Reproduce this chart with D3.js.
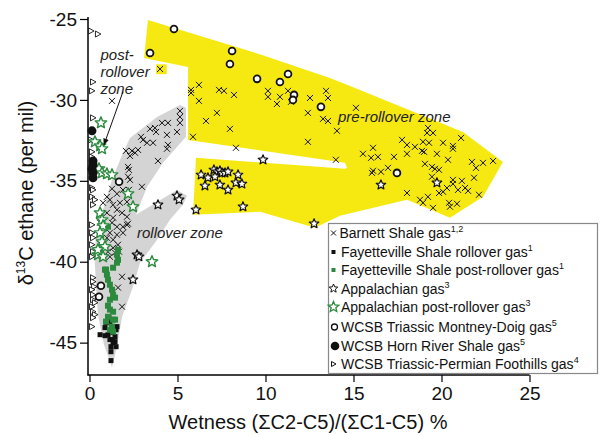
<!DOCTYPE html>
<html>
<head>
<meta charset="utf-8">
<script src="https://cdn.jsdelivr.net/npm/d3@7"></script>
<style>
  body { margin: 0; background: #fff; }
  svg { display: block; font-family: 'Liberation Sans', Arial, Helvetica, sans-serif; }
</style>
</head>
<body>
<div class="workspace"></div>
<script>
// zones
const preRolloverZone = [[3.32,-25.06],[9.8,-27.22],[13.66,-28.64],[15.09,-29.26],[21.22,-31.98],[23.49,-33.83],[22.36,-35.99],[20.48,-37.28],[18.04,-36.17],[14.23,-37.16],[12.81,-37.9],[9.69,-36.91],[5.88,-37.1],[6.05,-33.58],[14.52,-34.26],[14.63,-34.2],[14.52,-33.89],[5.6,-32.47],[5.6,-27.96],[3.1,-27.41]];
const preRolloverPatch = [[3.78,-27.8],[4.39,-27.8],[4.39,-28.41],[3.78,-28.41]];
const rolloverZone = [[1.28,-46.54],[0.82,-45.12],[0.48,-43.27],[0.37,-41.42],[0.26,-39.26],[0.6,-37.41],[1.28,-34.94],[1.85,-33.4],[2.3,-32.35],[3.84,-31.05],[5.14,-30.31],[5.48,-30.49],[5.48,-32.28],[4.18,-33.89],[3.27,-35.37],[2.64,-37.1],[4.97,-35.56],[5.54,-35.93],[5.31,-36.48],[4.57,-37.41],[3.84,-38.64],[2.87,-40.06],[2.47,-41.54],[1.85,-43.4],[1.56,-45.25]];

// series: [wetness %, d13C ethane]
const barnett = [
  [5.77,-29.38],[5.77,-29.57],[6.22,-29.07],[6.22,-30.06],[7.36,-29.38],[7.64,-29.44],[8.21,-29.69],[7.24,-30.8],[6.62,-31.3],[7.98,-31.79],[5.88,-32.28],[8.32,-32.96],
  [10.14,-29.44],[10.14,-29.81],[10.82,-29.81],[11.28,-29.44],[11.45,-30.12],[10.65,-30.25],[12.53,-29.88],[13.44,-29.44],[13.55,-29.88],[12.41,-30.8],[13.27,-31.17],[13.55,-31.3],[14.06,-31.91],[12.41,-32.59],[14.0,-33.7],[4.01,-28.09],[1.28,-30.06],[15.14,-30.49],
  [19.23,-31.73],[19.18,-32.04],[19.52,-32.04],[17.76,-32.47],[18.04,-32.78],[18.95,-32.59],[19.29,-32.65],[20.09,-32.65],[20.65,-32.84],[20.65,-33.02],[21.11,-32.35],[16.11,-32.96],[15.54,-33.33],[16.0,-33.58],[16.39,-33.52],[17.3,-33.52],[18.04,-33.33],[18.49,-32.9],[18.89,-33.15],[19.01,-33.21],[19.74,-33.33],[20.37,-33.7],[21.73,-33.83],[22.36,-33.89],[22.93,-33.77],[21.96,-34.2],[19.06,-33.95],[19.46,-34.14],[19.86,-34.32],[19.63,-34.26],[16.11,-34.38],[16.05,-34.51],[16.56,-34.44],[16.96,-34.2],[19.46,-34.75],[20.65,-34.94],[21.16,-35.0],[21.85,-34.81],[20.65,-35.19],[20.31,-35.44],[20.94,-35.56],[21.34,-35.44],[21.51,-35.62],[20.09,-35.68],[19.86,-35.75],[18.04,-35.75],[19.23,-35.99],[18.78,-36.17],[18.95,-36.36],[19.52,-36.67],[20.43,-36.36],[20.88,-36.42],[20.48,-36.6],[22.13,-35.86],
  [5.14,-30.68],[5.14,-31.05],[5.14,-31.42],[4.46,-31.42],[4.12,-31.42],[3.72,-31.73],[3.44,-31.79],[3.78,-31.98],[4.4,-32.16],[4.97,-31.98],[2.93,-32.28],[3.04,-32.47],[3.27,-32.65],[3.61,-32.65],[4.46,-32.78],[4.4,-33.02],[2.76,-33.09],[2.41,-33.15],[2.07,-33.15],[2.3,-33.46],[2.59,-33.27],[3.89,-33.77],[2.19,-34.14],[2.24,-34.32],[2.19,-34.75],[2.3,-34.94],[2.98,-35.37],[1.28,-35.49],[1.9,-35.56],[2.24,-35.56],[1.56,-35.8],[0.99,-35.99],[1.16,-36.17],[0.77,-36.36],[1.34,-36.48],[1.73,-36.36],[2.13,-36.3],[1.56,-36.79],[0.99,-36.98],[1.34,-37.28],[1.85,-36.98],[2.13,-37.22],[1.28,-37.59],[1.56,-37.84],[2.13,-37.72],[0.6,-37.59],[1.9,-37.84],[2.19,-37.65],[1.16,-38.21],[1.56,-38.33],[1.9,-38.21],[0.99,-38.52],[1.34,-38.64],[1.62,-38.95],[1.34,-39.14],[1.05,-39.38],[1.45,-39.44],[1.16,-39.69],[1.68,-39.38],[1.85,-40.93],[1.62,-41.6],[1.85,-42.78]
];
const fayRollover = [[0.6,-44.51],[0.88,-44.57],[1.05,-44.51],[1.28,-44.38],[1.45,-44.63],[1.56,-44.01],[1.28,-44.81],[1.22,-45.25],[1.22,-45.56],[1.22,-46.11],[1.34,-45.0],[1.11,-43.46],[1.51,-44.2],[1.16,-43.77],[0.94,-43.77],[0.88,-44.07],[1.51,-45.25],[1.16,-44.81],[1.45,-44.94]];
const fayPostRollover = [[0.94,-40.49],[1.34,-40.37],[1.56,-40.06],[1.62,-39.88],[1.56,-39.57],[1.62,-39.26],[0.88,-40.49],[0.99,-40.8],[1.05,-41.11],[1.16,-41.42],[1.28,-41.73],[1.34,-42.04],[1.45,-42.22],[1.16,-42.35],[1.05,-42.72],[1.16,-42.96],[1.34,-43.09],[1.05,-43.4],[0.94,-43.7],[1.34,-43.58],[1.45,-43.58],[1.28,-44.01],[1.16,-44.2],[1.34,-44.32],[1.05,-37.84]];
const appalachian = [[9.86,-33.7],[6.34,-34.63],[6.73,-34.81],[6.56,-35.31],[7.07,-34.32],[7.24,-34.44],[7.41,-34.38],[7.53,-34.51],[7.7,-34.51],[7.87,-34.44],[7.13,-34.75],[7.41,-35.25],[7.87,-35.56],[8.44,-34.63],[8.32,-35.12],[8.66,-35.19],[6.05,-36.79],[8.72,-36.6],[12.76,-37.65],[16.56,-35.25],[19.74,-35.12],[4.97,-35.93],[5.09,-36.17],[3.89,-36.48],[2.7,-39.57],[2.81,-39.69],[2.47,-41.11]];
const appPostRollover = [[0.65,-31.42],[0.31,-32.59],[0.6,-32.84],[0.71,-33.02],[0.54,-34.26],[0.71,-34.51],[0.99,-34.57],[1.28,-34.63],[2.19,-35.8],[2.47,-36.6],[0.6,-36.98],[0.71,-37.41],[0.77,-37.78],[0.6,-38.21],[0.71,-38.77],[0.88,-39.07],[0.48,-39.57],[0.77,-39.69],[0.48,-39.26],[3.55,-40.0]];
const montneyDoig = [[4.8,-25.62],[3.44,-27.1],[8.1,-26.98],[7.98,-27.78],[9.52,-28.7],[10.82,-28.89],[11.28,-28.4],[11.62,-29.69],[11.56,-30.0],[13.15,-30.43],[17.47,-34.51],[1.68,-35.06],[0.65,-41.48],[0.54,-42.16]];
const hornRiver = [[0.14,-31.91],[0.2,-33.77],[0.2,-34.01],[0.14,-34.26],[0.2,-34.51],[0.2,-34.81]];
const foothills = [[0.09,-25.74],[0.48,-25.93],[0.2,-28.89],[0.14,-29.44],[0.2,-31.11],[0.09,-32.47],[0.14,-33.21],[0.14,-33.52],[0.14,-35.43],[0.14,-35.99],[0.2,-35.56],[0.31,-36.17],[0.2,-36.48],[0.14,-37.72],[0.14,-38.21],[0.2,-38.52],[0.14,-38.95],[0.2,-39.38],[0.14,-39.69],[0.2,-40.99],[0.2,-41.23],[0.26,-41.54],[0.14,-41.73],[0.2,-42.04],[0.2,-42.35],[0.31,-42.53],[0.14,-42.78],[0.2,-43.09],[0.31,-43.27],[0.2,-43.46],[0.14,-44.01]];

const xMajorTicks = [0, 5, 10, 15, 20, 25];
const yMajorTicks = [-45, -40, -35, -30, -25];
const legendNames = ['Barnett Shale gas', 'Fayetteville Shale rollover gas', 'Fayetteville Shale post-rollover gas', 'Appalachian gas', 'Appalachian post-rollover gas', 'WCSB Triassic Montney-Doig gas', 'WCSB Horn River Shale gas', 'WCSB Triassic-Permian Foothills gas'];
const legendRefs = ['1,2', '1', '1', '3', '3', '5', '5', '4'];

const green = '#2b8a3e';
const yellow = '#f6e912';

const width = 600, height = 435;
const svg = d3.select('.workspace').append('svg').attr('width', width).attr('height', height);

const x = d3.scaleLinear().domain([0, 25]).range([89.5, 529.5]);
const y = d3.scaleLinear().domain([-47, -25]).range([375, 19]);

const poly = d3.line().x(d => x(d[0])).y(d => y(d[1]));

svg.append('path').attr('d', poly(preRolloverZone) + 'Z').attr('fill', yellow);
svg.append('path').attr('d', poly(preRolloverPatch) + 'Z').attr('fill', yellow);
svg.append('path').attr('d', poly(rolloverZone) + 'Z').attr('fill', '#d4d4d4');

// axes
const xAxis = svg.append('g').attr('transform', 'translate(0,375)');
xAxis.call(d3.axisBottom(x).tickValues(d3.range(0, 26)).tickSize(4).tickFormat(''));
xAxis.call(d3.axisBottom(x).tickValues(xMajorTicks).tickSize(7).tickPadding(5));
xAxis.selectAll('.domain').remove();
xAxis.append('line').attr('x1', 87.5).attr('x2', x(25)).attr('stroke', '#000').attr('stroke-width', 1.5);

const yAxis = svg.append('g').attr('transform', 'translate(88,0)');
yAxis.call(d3.axisLeft(y).tickValues(d3.range(-46, -24)).tickSize(4).tickFormat(''));
yAxis.call(d3.axisLeft(y).tickValues(yMajorTicks).tickSize(8).tickPadding(3).tickFormat(d => d));
yAxis.selectAll('.domain').remove();
yAxis.append('line').attr('y1', 17).attr('y2', 375.5).attr('stroke', '#000').attr('stroke-width', 1.5);

svg.selectAll('.tick line').attr('stroke-width', 1.2);
svg.selectAll('.tick text').attr('font-size', 19).attr('fill', '#111').attr('font-family', null);

svg.append('text').attr('x', 308).attr('y', 429).attr('text-anchor', 'middle')
  .attr('font-size', 20).attr('fill', '#111').text('Wetness (ΣC2-C5)/(ΣC1-C5) %');

const yTitle = svg.append('text').attr('transform', 'translate(33,193) rotate(-90)')
  .attr('text-anchor', 'middle').attr('font-size', 20).attr('fill', '#111');
yTitle.append('tspan').text('δ');
yTitle.append('tspan').attr('font-size', 12).attr('dy', -8).text('13');
yTitle.append('tspan').attr('dy', 8).text('C ethane (per mil)');

// marker shapes
function starPath(r) {
  const pts = [];
  for (let i = 0; i < 10; i++) {
    const a = -Math.PI / 2 + i * Math.PI / 5;
    const rr = i % 2 === 0 ? r : r * 0.45;
    pts.push([(rr * Math.cos(a)).toFixed(2), (rr * Math.sin(a)).toFixed(2)]);
  }
  return 'M' + pts.join('L') + 'Z';
}
const crossPath = 'M-3,-3L3,3M-3,3L3,-3';
const triPath = 'M-2.5,-3L3,0L-2.5,3Z';

function drawPath(data, d, attrs) {
  const sel = svg.append('g').selectAll('path').data(data).enter().append('path')
    .attr('d', d)
    .attr('transform', p => `translate(${x(p[0])},${y(p[1])})`);
  Object.keys(attrs).forEach(k => sel.attr(k, attrs[k]));
}

drawPath(barnett, crossPath, { stroke: '#111', 'stroke-width': 1, fill: 'none' });
drawPath(foothills, triPath, { stroke: '#111', 'stroke-width': 0.9, fill: '#fff' });

svg.append('g').selectAll('rect').data(fayRollover).enter().append('rect')
  .attr('x', d => x(d[0]) - 2.5).attr('y', d => y(d[1]) - 2.5)
  .attr('width', 5).attr('height', 5).attr('fill', '#111');
svg.append('g').selectAll('rect').data(fayPostRollover).enter().append('rect')
  .attr('x', d => x(d[0]) - 3).attr('y', d => y(d[1]) - 3)
  .attr('width', 6).attr('height', 6).attr('fill', green);

drawPath(appalachian, starPath(5), { stroke: '#111', 'stroke-width': 1.2, fill: '#fff', 'stroke-linejoin': 'round' });
drawPath(appPostRollover, starPath(6), { stroke: green, 'stroke-width': 1.4, fill: '#fff', 'stroke-linejoin': 'round' });

svg.append('g').selectAll('circle').data(hornRiver).enter().append('circle')
  .attr('cx', d => x(d[0])).attr('cy', d => y(d[1])).attr('r', 4.5).attr('fill', '#111');
svg.append('g').selectAll('circle').data(montneyDoig).enter().append('circle')
  .attr('cx', d => x(d[0])).attr('cy', d => y(d[1])).attr('r', 3.4)
  .attr('fill', '#fff').attr('stroke', '#111').attr('stroke-width', 1.8);

// zone labels
const note = svg.append('g').attr('font-size', 15).attr('font-style', 'italic').attr('fill', '#222');
note.append('text').attr('x', 100.5).attr('y', 60).text('post-');
note.append('text').attr('x', 100.5).attr('y', 77).text('rollover');
note.append('text').attr('x', 100.5).attr('y', 94).text('zone');
note.append('text').attr('x', 137).attr('y', 238).text('rollover zone');
note.append('text').attr('x', 338).attr('y', 122).text('pre-rollover zone');

svg.append('defs').append('marker').attr('id', 'head').attr('viewBox', '0 0 10 10')
  .attr('refX', 9).attr('refY', 5).attr('markerWidth', 7).attr('markerHeight', 7)
  .attr('orient', 'auto').append('path').attr('d', 'M0,1L10,5L0,9Z').attr('fill', '#111');
svg.append('line')
  .attr('x1', x(1.9)).attr('y1', y(-29.5)).attr('x2', x(0.82)).attr('y2', y(-32.78))
  .attr('stroke', '#111').attr('stroke-width', 1).attr('marker-end', 'url(#head)');

// legend
const legend = svg.append('g');
legend.append('rect').attr('x', 328.5).attr('y', 223.5).attr('width', 269).attr('height', 150)
  .attr('fill', '#fff').attr('stroke', '#888').attr('stroke-width', 1.2);
const rowY = [233, 252, 270, 288.5, 307, 327, 346, 364];
const sx = 333.5;
legend.append('path').attr('d', 'M-2.5,-2.5L2.5,2.5M-2.5,2.5L2.5,-2.5').attr('transform', `translate(${sx},${rowY[0]})`).attr('stroke', '#111');
legend.append('rect').attr('x', sx - 2).attr('y', rowY[1] - 2).attr('width', 4).attr('height', 4).attr('fill', '#111');
legend.append('rect').attr('x', sx - 2).attr('y', rowY[2] - 2).attr('width', 4).attr('height', 4).attr('fill', green);
legend.append('path').attr('d', starPath(4.5)).attr('transform', `translate(${sx},${rowY[3]})`).attr('fill', '#fff').attr('stroke', '#111');
legend.append('path').attr('d', starPath(5.5)).attr('transform', `translate(${sx},${rowY[4]})`).attr('fill', '#fff').attr('stroke', green).attr('stroke-width', 1.3);
legend.append('circle').attr('cx', sx + 1).attr('cy', rowY[5]).attr('r', 3).attr('fill', '#fff').attr('stroke', '#111').attr('stroke-width', 1.3);
legend.append('circle').attr('cx', sx + 1.5).attr('cy', rowY[6]).attr('r', 4.3).attr('fill', '#111');
legend.append('path').attr('d', 'M-2,-2.5L2.5,0L-2,2.5Z').attr('transform', `translate(${sx},${rowY[7]})`).attr('fill', '#fff').attr('stroke', '#111');

legendNames.forEach((name, i) => {
  const t = legend.append('text').attr('x', i === 0 ? 339.5 : 341).attr('y', rowY[i] + 5)
    .attr('font-size', 14).attr('fill', '#111');
  t.append('tspan').text(name);
  t.append('tspan').attr('font-size', 9).attr('dy', -6).text(legendRefs[i]);
});
</script>
</body>
</html>
